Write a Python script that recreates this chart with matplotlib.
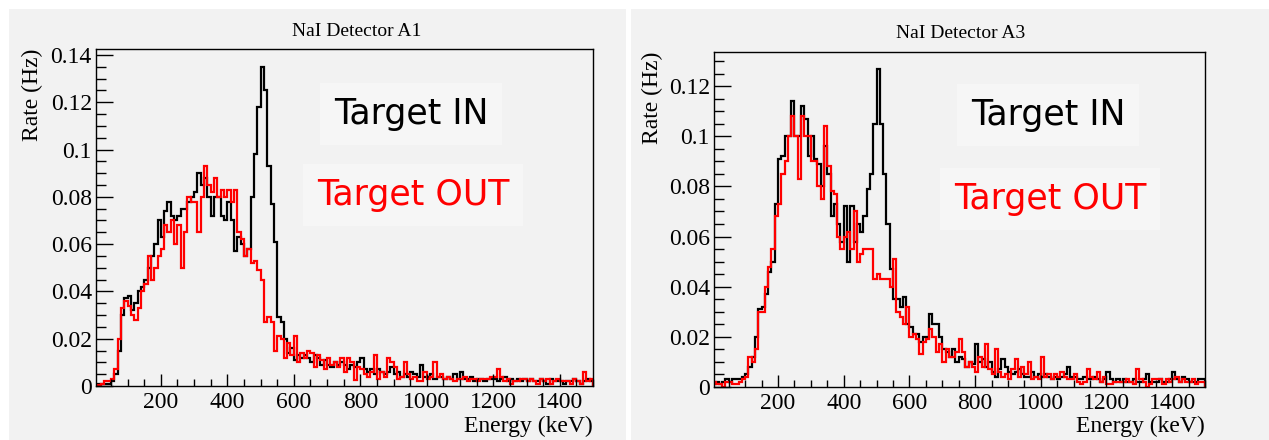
import numpy as np
import matplotlib
matplotlib.use("Agg")
import matplotlib.pyplot as plt
from matplotlib.patches import Rectangle
from matplotlib.ticker import MultipleLocator, FuncFormatter

# 10 keV bins, 0..1500 keV
edges = np.arange(0, 1510, 10)

# NaI detector A1
a1_in = [
    0.001, 0.001, 0.001, 0.001, 0.001, 0.002, 0.005, 0.015, 0.030, 0.037,
    0.038, 0.032, 0.035, 0.040, 0.042, 0.045, 0.050, 0.055, 0.060, 0.070,
    0.063, 0.074, 0.078, 0.072, 0.070, 0.072, 0.075, 0.075, 0.078, 0.080,
    0.082, 0.090, 0.085, 0.088, 0.080, 0.072, 0.080, 0.080, 0.072, 0.070,
    0.078, 0.070, 0.057, 0.063, 0.060, 0.055, 0.058, 0.080, 0.098, 0.118,
    0.135, 0.125, 0.093, 0.077, 0.061, 0.029, 0.027, 0.020, 0.014, 0.016,
    0.011, 0.013, 0.012, 0.013, 0.012, 0.010, 0.013, 0.012, 0.009, 0.011,
    0.009, 0.008, 0.010, 0.009, 0.010, 0.009, 0.007, 0.009, 0.008, 0.010,
    0.012, 0.007, 0.006, 0.007, 0.005, 0.007, 0.006, 0.005, 0.006, 0.008,
    0.005, 0.006, 0.004, 0.005, 0.004, 0.006, 0.005, 0.004, 0.009, 0.004,
    0.004, 0.005, 0.003, 0.004, 0.004, 0.003, 0.004, 0.003, 0.005, 0.003,
    0.006, 0.003, 0.003, 0.004, 0.002, 0.003, 0.003, 0.002, 0.003, 0.003,
    0.003, 0.002, 0.003, 0.004, 0.002, 0.003, 0.002, 0.003, 0.002, 0.003,
    0.002, 0.003, 0.002, 0.002, 0.003, 0.002, 0.001, 0.003, 0.002, 0.002,
    0.002, 0.001, 0.002, 0.002, 0.003, 0.002, 0.001, 0.002, 0.003, 0.002,
]
a1_out = [
    0.0005, 0.0005, 0.001, 0.002, 0.002, 0.003, 0.007, 0.020, 0.033, 0.036,
    0.034, 0.030, 0.028, 0.033, 0.040, 0.043, 0.055, 0.045, 0.050, 0.055,
    0.058, 0.068, 0.065, 0.070, 0.060, 0.068, 0.050, 0.065, 0.080, 0.078,
    0.078, 0.065, 0.080, 0.093, 0.085, 0.082, 0.088, 0.080, 0.083, 0.080,
    0.083, 0.078, 0.083, 0.065, 0.062, 0.055, 0.058, 0.052, 0.053, 0.049,
    0.045, 0.027, 0.029, 0.027, 0.015, 0.021, 0.020, 0.012, 0.018, 0.013,
    0.021, 0.010, 0.014, 0.012, 0.015, 0.014, 0.008, 0.013, 0.011, 0.007,
    0.012, 0.009, 0.010, 0.008, 0.012, 0.006, 0.012, 0.010, 0.0025, 0.008,
    0.007, 0.005, 0.004, 0.006, 0.013, 0.003, 0.006, 0.004, 0.012, 0.010,
    0.008, 0.003, 0.004, 0.010, 0.005, 0.003, 0.004, 0.002, 0.002, 0.006,
    0.003, 0.004, 0.010, 0.004, 0.005, 0.003, 0.004, 0.003, 0.002, 0.003,
    0.003, 0.004, 0.002, 0.003, 0.003, 0.002, 0.003, 0.003, 0.003, 0.004,
    0.004, 0.007, 0.004, 0.002, 0.003, 0.001, 0.002, 0.002, 0.003, 0.003,
    0.002, 0.003, 0.002, 0.001, 0.003, 0.002, 0.003, 0.001, 0.002, 0.003,
    0.002, 0.002, 0.002, 0.001, 0.003, 0.002, 0.001, 0.006, 0.002, 0.003,
]

# NaI detector A3
a3_in = [
    0.001, 0.002, 0.001, 0.002, 0.003, 0.002, 0.003, 0.003, 0.003, 0.004,
    0.005, 0.008, 0.012, 0.020, 0.031, 0.032, 0.037, 0.046, 0.050, 0.073,
    0.091, 0.092, 0.100, 0.100, 0.114, 0.100, 0.100, 0.112, 0.107, 0.092,
    0.100, 0.091, 0.089, 0.080, 0.096, 0.085, 0.068, 0.073, 0.065, 0.058,
    0.072, 0.050, 0.072, 0.058, 0.065, 0.062, 0.068, 0.079, 0.085, 0.105,
    0.127, 0.105, 0.085, 0.065, 0.047, 0.035, 0.035, 0.032, 0.036, 0.025,
    0.024, 0.021, 0.021, 0.018, 0.020, 0.020, 0.029, 0.025, 0.025, 0.020,
    0.015, 0.014, 0.012, 0.015, 0.010, 0.012, 0.011, 0.008, 0.010, 0.009,
    0.017, 0.010, 0.011, 0.008, 0.010, 0.006, 0.004, 0.007, 0.011, 0.008,
    0.006, 0.005, 0.006, 0.007, 0.005, 0.004, 0.004, 0.006, 0.004, 0.005,
    0.004, 0.005, 0.004, 0.003, 0.004, 0.003, 0.004, 0.005, 0.008, 0.004,
    0.004, 0.003, 0.003, 0.004, 0.003, 0.003, 0.004, 0.003, 0.002, 0.003,
    0.006, 0.003, 0.002, 0.003, 0.002, 0.003, 0.002, 0.002, 0.003, 0.002,
    0.002, 0.003, 0.005, 0.002, 0.002, 0.002, 0.003, 0.002, 0.002, 0.003,
    0.006, 0.003, 0.002, 0.004, 0.003, 0.002, 0.002, 0.002, 0.003, 0.003,
]
a3_out = [
    0.002, 0.001, 0.001, 0.000, 0.002, 0.002, 0.001, 0.001, 0.002, 0.003,
    0.004, 0.012, 0.010, 0.015, 0.030, 0.030, 0.040, 0.048, 0.055, 0.068,
    0.073, 0.085, 0.090, 0.100, 0.108, 0.100, 0.083, 0.108, 0.100, 0.100,
    0.090, 0.090, 0.080, 0.075, 0.104, 0.088, 0.078, 0.077, 0.060, 0.055,
    0.060, 0.062, 0.055, 0.070, 0.050, 0.053, 0.055, 0.055, 0.055, 0.043,
    0.045, 0.043, 0.043, 0.043, 0.040, 0.051, 0.030, 0.028, 0.025, 0.032,
    0.020, 0.021, 0.019, 0.013, 0.018, 0.019, 0.023, 0.020, 0.014, 0.017,
    0.010, 0.015, 0.012, 0.012, 0.014, 0.019, 0.014, 0.008, 0.010, 0.008,
    0.006, 0.012, 0.008, 0.017, 0.007, 0.005, 0.015, 0.006, 0.004, 0.005,
    0.003, 0.007, 0.011, 0.004, 0.008, 0.005, 0.010, 0.003, 0.004, 0.003,
    0.012, 0.004, 0.005, 0.003, 0.005, 0.004, 0.006, 0.004, 0.003, 0.003,
    0.005, 0.002, 0.001, 0.002, 0.007, 0.004, 0.003, 0.006, 0.002, 0.004,
    0.001, 0.001, 0.002, 0.002, 0.002, 0.002, 0.003, 0.002, 0.001, 0.007,
    0.003, 0.002, 0.000, 0.001, 0.003, 0.003, 0.003, 0.001, 0.003, 0.002,
    0.003, 0.004, 0.002, 0.003, 0.002, 0.002, 0.003, 0.001, 0.002, 0.002,
]

titles = ["NaI Detector A1", "NaI Detector A3"]
ymax = [0.1425, 0.1336]

plt.rcParams['font.family'] = ["Liberation Serif", "DejaVu Serif"]

W, H = 1269, 440
fig = plt.figure(figsize=(W / 100, H / 100), dpi=100)
fig.patch.set_facecolor("white")
bg = "#f2f2f2"

# grey canvas behind each pad
fig.patches.append(Rectangle((9 / W, 0), (626 - 9) / W, (H - 9) / H,
                             transform=fig.transFigure, facecolor=bg, edgecolor="none", zorder=-5))
fig.patches.append(Rectangle((631 / W, 0), (W - 631) / W, (H - 9) / H,
                             transform=fig.transFigure, facecolor=bg, edgecolor="none", zorder=-5))

# axes boxes in pixels: left, top, right, bottom
boxes = [(96, 49, 593, 386), (714, 52, 1205, 387)]
title_xy = [(357, 31), (961, 33)]
in_xy = [(411, 114), (1048, 115)]
out_xy = [(413, 195), (1050, 199)]
ylab_x = [32, 652]

for i, (hin, hout) in enumerate([(a1_in, a1_out), (a3_in, a3_out)]):
    l, t, r, b = boxes[i]
    ax = fig.add_axes([l / W, 1 - b / H, (r - l) / W, (b - t) / H])
    ax.set_facecolor(bg)
    ax.stairs(hin, edges, color="black", lw=1.6)
    ax.stairs(hout, edges, color="red", lw=1.6)
    ax.set_xlim(5, 1500)
    ax.set_ylim(0, ymax[i])

    ax.xaxis.set_major_locator(MultipleLocator(200))
    ax.xaxis.set_minor_locator(MultipleLocator(50))
    ax.yaxis.set_major_locator(MultipleLocator(0.02))
    ax.yaxis.set_minor_locator(MultipleLocator(0.005))
    ax.yaxis.set_major_formatter(FuncFormatter(lambda v, p: "%g" % round(v, 4)))
    ax.tick_params(which="both", direction="in", top=False, right=False, labelsize=17)
    ax.tick_params(axis="y", which="major", length=12, width=1, pad=3)
    ax.tick_params(axis="y", which="minor", length=7, width=1)
    ax.tick_params(axis="x", which="major", length=9, width=1, pad=4)
    ax.tick_params(axis="x", which="minor", length=5, width=1)
    for s in ax.spines.values():
        s.set_linewidth(1)

    fig.text(title_xy[i][0] / W, 1 - title_xy[i][1] / H, titles[i],
             ha="center", va="center", fontsize=14)
    fig.text(ylab_x[i] / W, 1 - t / H, "Rate (Hz)", rotation=90,
             ha="center", va="top", fontsize=17)
    fig.text(r / W, 1 - 426 / H, "Energy (keV)", ha="right", va="center",
             fontsize=17)

    fig.text(in_xy[i][0] / W, 1 - in_xy[i][1] / H, "Target IN", color="black",
             ha="center", va="center", fontsize=25, family="DejaVu Sans",
             bbox=dict(facecolor="#f6f6f6", edgecolor="none", pad=10))
    fig.text(out_xy[i][0] / W, 1 - out_xy[i][1] / H, "Target OUT", color="red",
             ha="center", va="center", fontsize=25, family="DejaVu Sans",
             bbox=dict(facecolor="#f6f6f6", edgecolor="none", pad=10))

fig.savefig("out.png", dpi=100, facecolor="white")
